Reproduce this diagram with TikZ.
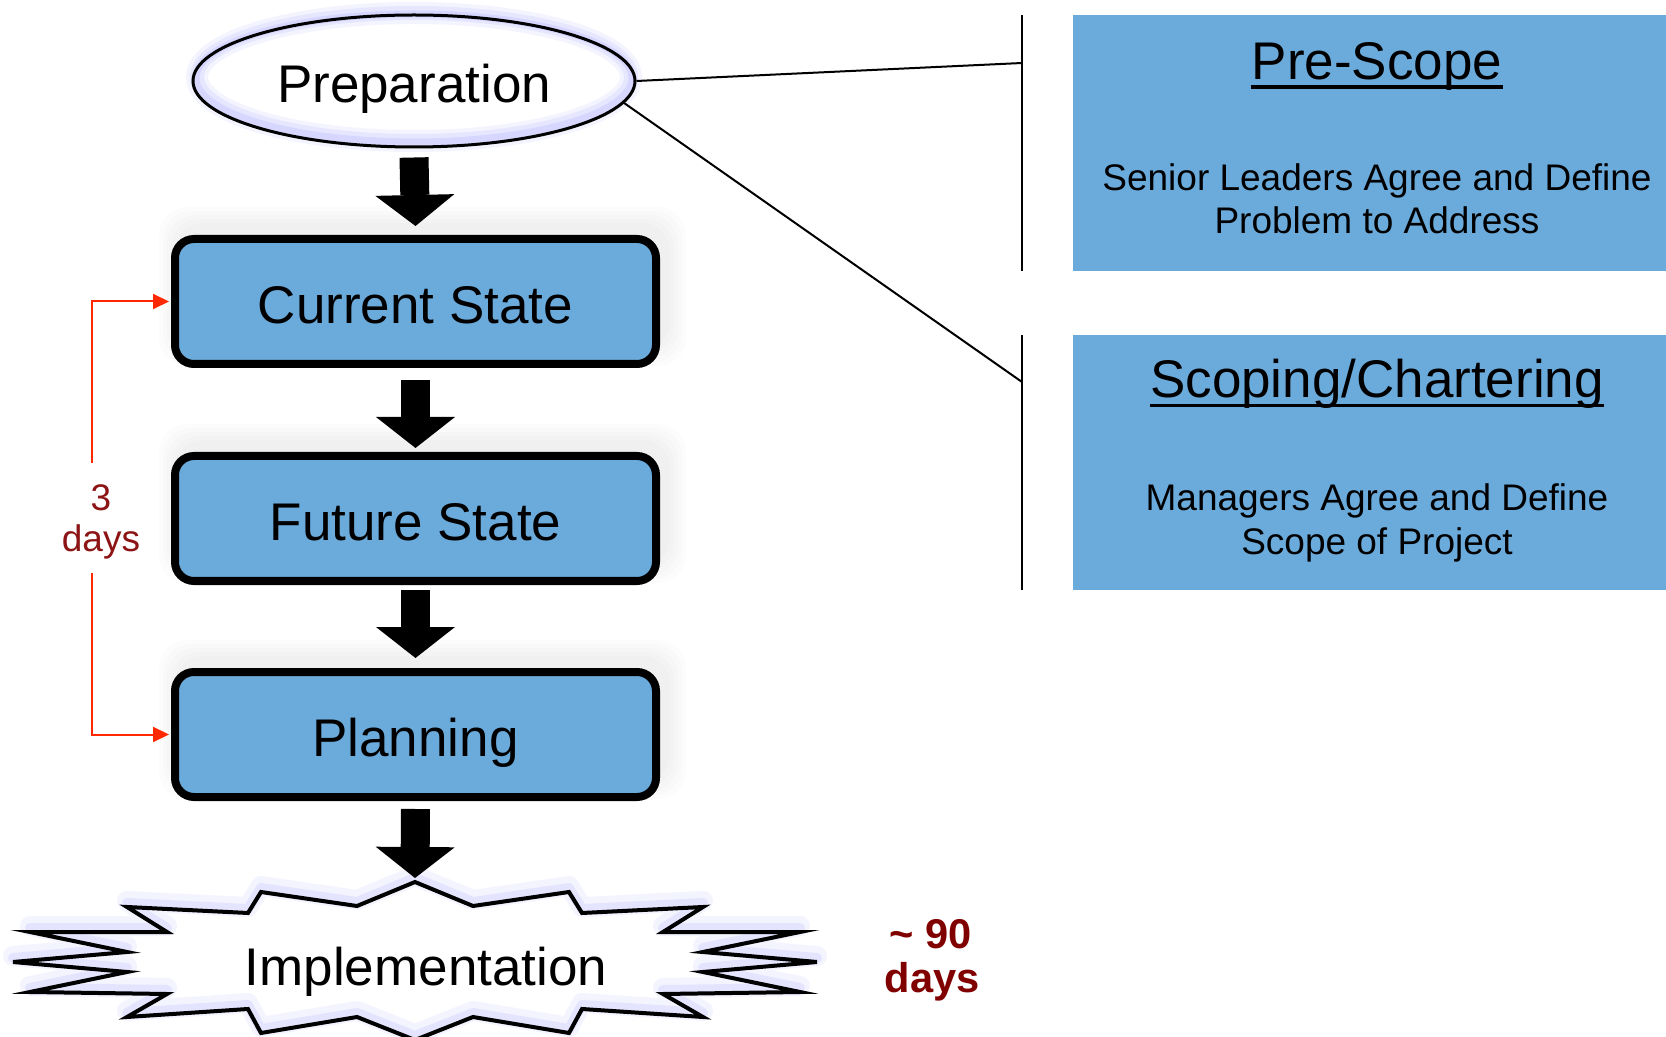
\documentclass[tikz,border=0pt]{standalone}
\usepackage{fontspec}
\setmainfont{Liberation Sans}
\usetikzlibrary{arrows.meta,shapes.geometric}

\definecolor{boxblue}{RGB}{107,171,220}
\definecolor{glowblue}{RGB}{150,150,255}
\definecolor{bracketred}{RGB}{255,40,0}
\definecolor{labelred}{RGB}{140,20,20}
\definecolor{boldred}{RGB}{128,0,0}

% outline of the implementation burst, relative to its centre
\newcommand\burstoutline{(0,-80) -- (58,-56) -- (154,-70) -- (167,-49) -- (288,-55) -- (248,-30) -- (385,-30) -- (288,-10) -- (402,0) -- (288,10) -- (385,30) -- (248,32) -- (288,55) -- (167,47) -- (154,71) -- (58,55) -- (0,78) -- (-58,55) -- (-154,71) -- (-167,47) -- (-288,55) -- (-248,32) -- (-385,30) -- (-288,10) -- (-402,0) -- (-288,-10) -- (-385,-30) -- (-248,-30) -- (-288,-55) -- (-167,-49) -- (-154,-70) -- (-58,-56) -- cycle}

\begin{document}
\begin{tikzpicture}[x=0.5pt,y=-0.5pt,
  stagefont/.style={font=\fontsize{26.5}{30}\selectfont, text height=22pt, text depth=0pt},
  stagebox/.style={stagefont, rectangle, draw=black, line width=4pt, rounded corners=9.5pt,
    fill=boxblue, minimum width=240.5pt, minimum height=62.5pt, inner sep=0pt},
  prepshape/.style={stagefont, ellipse, draw=black, line width=1.5pt,
    minimum width=221pt, minimum height=66pt, inner sep=0pt},
  blockarrow/.style={draw=black, line width=14.5pt,
    -{Triangle[length=15.5pt, width=39.5pt, line width=0pt]}},
  bracketline/.style={draw=bracketred, line width=1pt, -{Triangle[length=8pt, width=7.5pt]}},
  guide/.style={draw=black, line width=1pt},
  infobox/.style={rectangle, fill=boxblue, draw=none, minimum width=304pt,
    minimum height=128pt, inner sep=0pt},
  headtext/.style={font=\fontsize{26.5}{30}\selectfont, inner sep=0pt, anchor=base},
  bodytext/.style={font=\fontsize{18.5}{21.5}\selectfont, inner sep=0pt, anchor=base},
  daylabel/.style={font=\fontsize{18.5}{21}\selectfont, text=labelred, inner sep=0pt, anchor=base},
  ninetylabel/.style={font=\bfseries\fontsize{20.8}{22}\selectfont, text=boldred, inner sep=0pt, anchor=base},
  glow/.style={draw=glowblue, line join=round},
]
\clip (0,0) rectangle (1666,1037);
\fill[white] (0,0) rectangle (1666,1037);

% soft shadows behind the stage boxes, cast upwards
\foreach \cy in {301.5,518.5,734.5}{
  \foreach \g in {4,8,12,16,20}{
    \fill[black, opacity=0.011, rounded corners=14pt]
      (171-\g+8, \cy-66.5-\g-8) rectangle (660+\g+6, \cy+66.5+\g-22);
  }
}

% right-hand description panels
\node[infobox] (pre) at (1377,143) {};
\node[infobox, minimum height=127.5pt] (sco) at (1377,462.5) {};

\node[headtext] (preh) at (1377,80) {Pre-Scope};
\draw[line width=1.75pt] ([yshift=-3.6pt]preh.base west) -- ([yshift=-3.6pt]preh.base east);
\node[bodytext] (preb1) at (1377,191) {Senior Leaders Agree and Define};
\node[bodytext] (preb2) at (1377,234) {Problem to Address};

\node[headtext] (scoh) at (1377,398) {Scoping/Chartering};
\draw[line width=1.75pt] ([yshift=-3.8pt]scoh.base west) -- ([yshift=-3.8pt]scoh.base east);
\node[bodytext] (scob1) at (1377,511) {Managers Agree and Define};
\node[bodytext] (scob2) at (1377,554) {Scope of Project};

% glow round the preparation ellipse
\draw[glow, line width=11pt, opacity=0.10] (414,77) ellipse [x radius=217, y radius=64];
\draw[glow, line width=7pt, opacity=0.14] (414,77) ellipse [x radius=217, y radius=64];
\draw[glow, line width=3.5pt, opacity=0.20] (414,78) ellipse [x radius=218, y radius=64];
\node[prepshape] (prep) at (414,81) {Preparation};

% brackets and leader lines to the panels
\coordinate (b1top) at (1022,15);
\coordinate (b1bot) at (1022,271);
\coordinate (b2top) at (1022,335);
\coordinate (b2bot) at (1022,590);
\coordinate (c1) at (1022,63);
\coordinate (c2) at (1022,382);
\draw[guide] (b1top) -- (b1bot);
\draw[guide] (b2top) -- (b2bot);
\draw[guide] (prep.east) -- (c1);
\draw[guide] (prep.-6) -- (c2);

% stages
\node[stagebox] (cur) at (415.5,301.5) {Current State};
\node[stagebox] (fut) at (415.5,518.5) {Future State};
\node[stagebox] (plan) at (415.5,734.5) {Planning};

% implementation burst
\coordinate (burst) at (415,962);
\coordinate (impltop) at (415,882);
\draw[glow, line width=10pt, opacity=0.10, shift={(burst)}, yshift=3pt] \burstoutline;
\draw[glow, line width=5pt, opacity=0.16, shift={(burst)}, yshift=2pt] \burstoutline;
\draw[black, line width=2pt, line join=miter, shift={(burst)}] \burstoutline;
\node[stagefont, inner sep=0pt] (impl) at (426,963) {Implementation};

% block arrows between the stages
\draw[blockarrow] ([yshift=-4.5pt]prep.south) -- ([yshift=4.5pt]cur.north);
\draw[blockarrow] ([yshift=-6pt]cur.south) -- ([yshift=2pt]fut.north);
\draw[blockarrow] ([yshift=-2.5pt]fut.south) -- ([yshift=5pt]plan.north);
\draw[blockarrow] ([yshift=-4pt]plan.south) -- ([yshift=2pt]impltop);

% three-day span
\node[daylabel] (dnum) at (101,510) {3};
\node[daylabel] (dword) at (101,552) {days};
\coordinate (spantop) at (91.5,463);
\coordinate (spanbot) at (91.5,573);
\draw[bracketline] (spantop) |- ([xshift=-1pt]cur.west);
\draw[bracketline] (spanbot) |- ([xshift=-1pt]plan.west);

% ninety-day span
\node[ninetylabel] (nnum) at (931,948) {\textasciitilde{} 90};
\node[ninetylabel] (nword) at (932,992) {days};
\end{tikzpicture}
\end{document}
